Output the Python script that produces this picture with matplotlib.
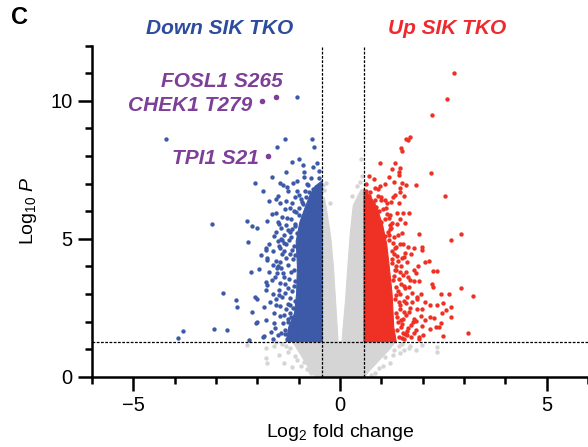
import matplotlib
matplotlib.use('Agg')
import matplotlib.pyplot as plt
from matplotlib.ticker import MultipleLocator

plt.rcParams['font.family'] = ['Liberation Sans', 'DejaVu Sans']
plt.rcParams['mathtext.fontset'] = 'custom'
plt.rcParams['mathtext.rm'] = 'Liberation Sans'
plt.rcParams['mathtext.it'] = 'Liberation Sans:italic'

# ---------------- data ----------------
# thresholds
fc_down = -0.43
fc_up = 0.58
p_thr = 1.27

# dense cores (envelopes of the crowded point clouds)
blue_core_x = [-0.43, -1.30, -1.24, -1.10, -1.05, -1.03, -1.06, -0.97, -0.85, -0.72, -0.60, -0.43]
blue_core_y = [1.27, 1.27, 1.80, 2.30, 3.00, 4.00, 4.90, 5.60, 6.10, 6.60, 6.90, 7.10]
red_core_x = [0.58, 1.36, 1.30, 1.26, 1.19, 1.13, 1.03, 0.90, 0.75, 0.58]
red_core_y = [1.27, 1.27, 1.80, 3.00, 4.00, 4.80, 5.50, 6.10, 6.50, 6.80]
gray_low_x = [-1.15, 1.35, 1.20, 0.95, 0.70, 0.60, -0.60, -0.75, -0.95]
gray_low_y = [1.27, 1.27, 1.00, 0.60, 0.20, 0.00, 0.00, 0.30, 0.80]
gray_left_x = [-0.43, -0.43, -0.38, -0.33, -0.22, -0.16, -0.11, -0.06, -0.02, 0.00]
gray_left_y = [1.20, 6.20, 6.50, 6.10, 5.00, 4.00, 2.80, 1.60, 0.60, 0.00]
gray_right_x = [0.58, 0.58, 0.52, 0.45, 0.32, 0.25, 0.20, 0.13, 0.06, 0.02, 0.00]
gray_right_y = [1.20, 6.70, 6.80, 6.60, 6.20, 5.20, 4.20, 2.70, 1.50, 0.60, 0.00]

# scattered significant-down points
blue_x = [-4.20, -1.04, -1.34, -1.53, -0.68, -0.63, -1.17, -1.30, -2.05, -1.64, -1.00, -0.89,
          -0.55, -0.51, -0.88, -1.86, -1.44, -1.37, -1.28, -1.14, -1.03, -0.88, -1.25, -1.05,
          -0.84, -0.75, -0.59, -1.71, -1.54, -1.50, -1.30, -1.46, -1.17, -0.92, -1.54, -1.32,
          -1.22, -1.12, -1.00, -2.26, -2.14, -2.00, -3.09, -1.76, -1.51, -1.28, -1.56, -1.36,
          -1.20, -2.22, -1.78, -1.46, -1.71, -1.90, -1.79, -1.24, -1.48, -1.76, -2.15, -1.97,
          -1.72, -1.52, -1.51, -1.79, -1.76, -1.79, -1.61, -1.40, -1.76, -2.83, -2.51, -2.48,
          -2.05, -2.00, -1.84, -2.14, -1.56, -1.80, -2.00, -2.03, -1.59, -1.68, -1.86, -2.21,
          -1.32, -3.04, -2.73, -3.79, -3.93, -1.83, -1.45, -1.35, -1.30, -1.40, -1.25, -1.20,
          -1.45, -1.25, -1.50, -1.60, -1.15, -1.30, -1.10, -1.65, -1.40, -0.70, -0.80, -0.65,
          -1.10, -0.98, -1.65, -1.55, -1.62, -1.42, -1.18, -1.12, -1.22, -1.38, -1.70, -1.15,
          -1.35, -1.42, -1.48, -1.26, -1.19, -1.33, -1.09, -0.95, -0.78,
          -1.12, -1.20, -1.15, -1.27, -1.18, -1.30, -1.14, -1.10, -1.22, -1.32, -1.16, -1.10,
          -1.24, -1.38, -1.12, -1.27, -1.45, -1.14, -1.22, -1.36, -1.12, -1.30, -1.50, -1.18,
          -1.05, -1.26, -1.42, -1.08, -1.18, -0.98, -1.06, -0.90, -0.82, -0.66, -0.50, -1.55,
          -1.48, -1.58, -1.62, -1.35, -1.42, -1.58, -1.28, -1.62, -1.44, -1.34, -1.52, -1.40,
          -1.60, -1.47]
blue_y = [8.60, 10.12, 8.60, 8.33, 8.62, 8.31, 7.77, 7.43, 7.01, 7.25, 7.90, 7.66,
          7.73, 7.46, 7.41, 6.74, 7.01, 6.96, 6.88, 7.01, 7.10, 7.25, 6.72, 6.74,
          6.72, 6.68, 6.88, 6.35, 6.43, 6.55, 6.37, 6.28, 6.30, 6.34, 5.94, 6.06,
          6.10, 6.00, 6.10, 5.65, 5.46, 5.38, 5.52, 5.64, 5.62, 5.74, 5.25, 5.13,
          5.25, 4.88, 4.65, 4.65, 4.81, 4.41, 4.59, 4.95, 4.74, 4.29, 3.80, 3.90,
          3.80, 3.77, 4.01, 3.44, 3.32, 3.14, 3.00, 2.90, 4.23, 3.02, 2.78, 2.54,
          2.89, 2.82, 2.54, 2.36, 2.60, 2.05, 1.98, 1.93, 1.95, 1.62, 1.45, 1.33,
          1.69, 1.73, 1.69, 1.64, 1.40, 1.49, 3.40, 3.60, 4.30, 4.45, 3.20, 2.60,
          2.20, 2.00, 1.50, 2.30, 4.60, 5.50, 5.55, 5.90, 5.80, 7.20, 7.00, 7.60,
          6.50, 6.60, 3.50, 4.20, 4.55, 5.00, 3.80, 3.30, 2.30, 1.95, 2.70, 5.35,
          4.85, 3.95, 2.95, 2.65, 1.75, 1.55, 4.40, 6.45, 6.95,
          1.45, 1.60, 1.85, 2.10, 2.15, 2.45, 2.50, 2.75, 2.85, 3.05, 3.10, 3.45,
          3.55, 3.75, 3.85, 4.05, 4.15, 4.25, 4.45, 4.55, 4.75, 4.80, 4.90, 5.05,
          5.20, 5.30, 5.40, 5.45, 5.70, 5.85, 5.95, 6.25, 6.50, 6.80, 7.20, 2.80,
          3.15, 3.60, 4.05, 2.25, 1.60, 1.75, 1.38, 1.38, 2.55, 3.35, 3.95, 4.95,
          5.10, 5.55]

# scattered significant-up points
red_x = [2.76, 2.60, 2.22, 1.69, 1.59, 1.65, 1.47, 1.50, 0.96, 1.34, 1.27, 1.45, 1.43, 1.43,
         2.19, 0.70, 0.83, 1.18, 1.30, 1.51, 1.59, 1.84, 1.08, 0.96, 0.91, 0.85, 1.45, 1.44,
         1.34, 1.29, 1.56, 0.62, 1.00, 0.92, 1.00, 1.13, 1.24, 1.42, 2.54, 0.66, 0.75, 0.86,
         1.04, 1.38, 1.52, 1.67, 1.20, 1.14, 1.44, 1.57, 1.26, 1.38, 1.24, 1.18, 1.49, 1.92,
         2.92, 2.69, 1.28, 1.52, 1.45, 1.65, 1.80, 1.99, 1.99, 1.56, 1.50, 1.38, 1.26, 1.88,
         2.16, 2.06, 2.34, 2.26, 1.83, 1.44, 1.52, 1.60, 1.80, 1.70, 1.90, 2.22, 2.25, 1.47,
         1.55, 2.92, 3.22, 2.45, 2.63, 1.87, 1.87, 1.75, 2.17, 2.35, 2.49, 2.68, 2.57, 2.47,
         2.69, 1.99, 2.17, 2.27, 1.83, 1.77, 1.71, 1.65, 2.45, 2.33, 2.40, 2.17, 2.49, 3.09,
         1.91, 1.91, 1.61, 1.57, 1.49, 1.39, 1.55, 1.60, 1.59, 1.42, 1.35, 1.40, 1.28, 1.35,
         1.25, 1.10, 1.00, 0.80, 0.70, 1.45, 1.50, 1.70, 1.95, 2.05, 1.80, 2.00, 1.32, 1.40,
         1.22, 1.48, 1.36, 1.18,
         1.42, 1.55, 1.38, 1.48, 1.62, 1.40, 1.52, 1.36, 1.66, 1.44, 1.55, 1.33, 1.62, 1.45,
         1.35, 1.58, 1.30, 1.42, 1.65, 1.32, 1.48, 1.25, 1.40, 1.62, 1.30, 1.18, 1.35, 1.72,
         1.15, 1.30, 1.08, 0.95, 0.85, 0.72, 0.64, 1.75, 1.80, 1.72, 1.85, 1.68, 1.78, 1.58,
         1.22, 1.12, 1.08, 1.95, 2.05, 1.98, 1.86, 1.52]
red_y = [11.01, 10.06, 9.47, 8.70, 8.61, 8.56, 8.30, 8.19, 7.75, 7.75, 7.53, 7.55, 7.42, 7.31,
         7.38, 7.28, 7.17, 7.22, 7.05, 7.01, 6.95, 6.96, 6.98, 6.92, 6.80, 6.85, 6.84, 6.70,
         6.59, 6.52, 6.54, 6.73, 6.52, 6.55, 6.39, 6.28, 6.34, 6.28, 6.56, 6.47, 6.21, 6.16,
         6.08, 5.92, 5.92, 5.94, 5.86, 5.90, 5.70, 5.58, 5.56, 5.52, 5.38, 5.13, 5.20, 5.16,
         5.18, 4.95, 4.86, 4.80, 4.82, 4.71, 4.67, 4.70, 4.60, 4.33, 4.30, 4.38, 4.11, 4.02,
         4.18, 4.16, 3.84, 3.82, 3.77, 3.78, 3.70, 3.78, 3.47, 3.50, 3.45, 3.37, 3.26, 3.36,
         3.30, 3.21, 2.92, 3.00, 3.00, 2.90, 2.80, 3.05, 2.60, 2.60, 2.68, 2.51, 2.42, 2.30,
         2.15, 2.44, 2.16, 2.12, 2.01, 1.99, 1.86, 1.75, 1.93, 1.81, 1.81, 1.72, 1.49, 1.57,
         1.43, 1.35, 1.66, 1.56, 1.41, 2.16, 2.34, 2.25, 2.66, 2.72, 2.95, 3.10, 3.50, 4.00,
         4.55, 5.10, 5.60, 6.30, 6.55, 2.45, 1.90, 2.50, 2.20, 2.05, 1.60, 1.50, 4.65, 5.15,
         5.35, 2.05, 3.85, 5.75,
         1.45, 1.35, 1.70, 1.80, 1.50, 2.00, 2.10, 2.30, 2.35, 2.60, 2.75, 2.80, 2.90, 3.00,
         3.25, 3.20, 3.65, 3.55, 3.60, 3.85, 4.00, 4.25, 4.20, 4.15, 4.45, 4.95, 4.70, 4.45,
         5.25, 5.05, 5.70, 6.00, 6.40, 6.70, 7.00, 2.70, 2.10, 1.45, 1.70, 3.25, 3.85, 4.50,
         5.50, 6.10, 6.40, 3.00, 2.70, 1.85, 2.45, 1.60]

# scattered non-significant points
gray_x = [-2.25, -1.80, -1.78, -1.76, -1.48, -1.36, -0.79, -1.30, -1.25, -1.40, -1.60, -1.05,
          -0.95, 2.35, 2.35, 1.99, 1.67, 1.46, 0.82, 1.10, 1.30, 1.50, 1.20, 0.95, -0.33,
          -0.38, 0.50, 0.53, 0.48, 0.40, -0.25, 0.30, -0.40, 1.70, 1.85, -1.15, -0.70,
          -1.22, -1.10, -0.88, -0.72, 1.42, 1.28, 1.05, 0.85, 0.75, -0.55, 1.55, -1.55]
gray_y = [1.15, 1.03, 0.67, 0.49, 0.79, 0.49, 0.27, 1.10, 0.90, 1.20, 1.10, 0.60,
          0.40, 1.06, 0.91, 1.15, 1.03, 0.85, 0.54, 0.70, 0.95, 1.20, 0.50, 0.30, 7.03,
          6.75, 7.90, 7.28, 7.05, 6.90, 6.30, 6.55, 6.95, 1.10, 0.95, 0.35, 0.15,
          1.05, 0.75, 0.55, 0.20, 1.10, 0.80, 0.40, 0.15, 0.05, 0.05, 0.95, 1.25]

# highlighted phosphosites
site_names = ['FOSL1 S265', 'CHEK1 T279', 'TPI1 S21']
site_x = [-1.54, -1.88, -1.74]
site_y = [10.12, 10.00, 8.00]
site_label_x = [-1.39, -2.12, -1.97]
site_label_y = [10.68, 9.81, 7.89]

x_ticks = [-5, 0, 5]
y_ticks = [0, 5, 10]

# ---------------- styling ----------------
BLUE = '#3C5AA8'
RED = '#EE3124'
GRAY = '#D5D5D5'
PURPLE = '#7E3F98'
TITLE_BLUE = '#2D4C9E'
TITLE_RED = '#EE2A2F'

fig = plt.figure(figsize=(5.88, 4.47), dpi=100)
ax = fig.add_axes([92 / 588, 1 - 376.7 / 447, (588 - 92) / 588, (376.7 - 45.5) / 447])
ax.set_xlim(-6, 6)
ax.set_ylim(0, 12)

ms = 10
# gray (non-significant)
for px, py in [(gray_low_x, gray_low_y), (gray_left_x, gray_left_y), (gray_right_x, gray_right_y)]:
    ax.fill(px, py, color=GRAY, lw=0.8, ec=GRAY, zorder=1)
ax.scatter(gray_x, gray_y, s=ms, color=GRAY, lw=0, zorder=1)

# significant
ax.fill(blue_core_x, blue_core_y, color=BLUE, lw=0.8, ec=BLUE, zorder=2)
ax.fill(red_core_x, red_core_y, color=RED, lw=0.8, ec=RED, zorder=2)
ax.scatter(blue_x, blue_y, s=ms, color=BLUE, lw=0, zorder=2)
ax.scatter(red_x, red_y, s=ms, color=RED, lw=0, zorder=2)

# threshold lines
dash = (0, (2.2, 1.2))
ax.axhline(p_thr, color='black', lw=0.9, ls=dash, zorder=3)
ax.axvline(fc_down, color='black', lw=0.9, ls=dash, zorder=3)
ax.axvline(fc_up, color='black', lw=0.9, ls=dash, zorder=3)

# highlighted sites
ax.scatter(site_x, site_y, s=16, color=PURPLE, lw=0, zorder=4)
for name, lx, ly in zip(site_names, site_label_x, site_label_y):
    ax.text(lx, ly, name, color=PURPLE, fontsize=15, fontweight='bold', fontstyle='italic',
            ha='right', va='center', zorder=5)

# axes styling
for s in ['top', 'right']:
    ax.spines[s].set_visible(False)
for s in ['left', 'bottom']:
    ax.spines[s].set_linewidth(1.8)
ax.set_xticks(x_ticks)
ax.set_yticks(y_ticks)
ax.xaxis.set_minor_locator(MultipleLocator(1))
ax.yaxis.set_minor_locator(MultipleLocator(1))
ax.tick_params(which='major', length=10, width=1.8, labelsize=14.5, pad=4, color='black')
ax.tick_params(which='minor', length=5, width=1.8, color='black')

ax.set_xlabel(r'Log$_2$ fold change', fontsize=14, labelpad=5)
ax.set_ylabel(r'Log$_{10}$ $\mathit{P}$', fontsize=14, labelpad=8)

fig.text(11 / 588, 1 - 18 / 447, 'C', fontsize=17, fontweight='bold', ha='left', va='center')
fig.text(220 / 588, 1 - 28 / 447, 'Down SIK TKO', fontsize=15, fontweight='bold',
         fontstyle='italic', color=TITLE_BLUE, ha='center', va='center')
fig.text(447 / 588, 1 - 28 / 447, 'Up SIK TKO', fontsize=15, fontweight='bold',
         fontstyle='italic', color=TITLE_RED, ha='center', va='center')

fig.savefig('out.png', dpi=100)
